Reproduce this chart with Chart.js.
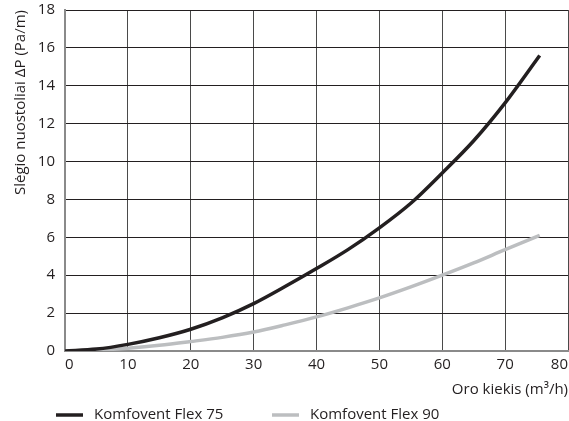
<!DOCTYPE html>
<html>
<head>
<meta charset="utf-8">
<script src="https://cdn.jsdelivr.net/npm/chart.js@4"></script>
<style>
  html, body { margin: 0; padding: 0; background: #fff; }
  #wrap { width: 569px; height: 421px; position: relative; }
</style>
</head>
<body>
<div id="wrap"><canvas id="c"></canvas></div>
<script>
// Data
const airflow = [0, 5, 10, 15, 20, 25, 30, 35, 40, 45, 50, 55, 60, 65, 70, 75.5];
const flex75 = [0, 0.1, 0.35, 0.7, 1.15, 1.75, 2.5, 3.4, 4.35, 5.35, 6.5, 7.8, 9.4, 11.1, 13.1, 15.6];
const flex90 = [0, 0.04, 0.15, 0.3, 0.5, 0.72, 1.0, 1.38, 1.8, 2.28, 2.8, 3.38, 4.0, 4.65, 5.35, 6.1];
const seriesNames = ['Komfovent Flex 75', 'Komfovent Flex 90'];
const xTitle = 'Oro kiekis (m³/h)';
const yTitle = 'Slėgio nuostoliai ΔP (Pa/m)';

const FONT = '"Open Sans", "Noto Sans", sans-serif';
const TEXT = '#231f20';
const toPts = (xs, ys) => xs.map((x, i) => ({ x: x, y: ys[i] }));

const legendPlugin = {
  id: 'customLegend',
  afterDraw(chart) {
    const ctx = chart.ctx;
    const starts = [56, 272];
    const y = 415;
    ctx.save();
    chart.data.datasets.forEach((ds, i) => {
      const x0 = starts[i];
      ctx.strokeStyle = ds.borderColor;
      ctx.lineWidth = 3.5;
      ctx.beginPath();
      ctx.moveTo(x0, y);
      ctx.lineTo(x0 + 27, y);
      ctx.stroke();
      ctx.fillStyle = TEXT;
      ctx.font = '15px ' + FONT;
      ctx.textBaseline = 'middle';
      ctx.textAlign = 'left';
      ctx.fillText(ds.label, x0 + 38, y);
    });
    ctx.restore();
  }
};

new Chart(document.getElementById('c'), {
  type: 'line',
  data: {
    datasets: [
      {
        label: seriesNames[0],
        data: toPts(airflow, flex75),
        borderColor: '#231f20',
        borderWidth: 3.5,
        pointRadius: 0,
        cubicInterpolationMode: 'monotone',
        fill: false
      },
      {
        label: seriesNames[1],
        data: toPts(airflow, flex90),
        borderColor: '#bcbec0',
        borderWidth: 3.5,
        pointRadius: 0,
        cubicInterpolationMode: 'monotone',
        fill: false
      }
    ]
  },
  options: {
    responsive: true,
    maintainAspectRatio: false,
    animation: false,
    layout: { padding: { left: 12, right: 1, top: 10, bottom: 22 } },
    plugins: {
      legend: { display: false },
      tooltip: { enabled: false }
    },
    scales: {
      x: {
        type: 'linear',
        min: 0,
        max: 80,
        ticks: { stepSize: 10, color: TEXT, font: { family: FONT, size: 15 }, padding: 5, align: 'inner', maxRotation: 0 },
        grid: { color: '#4a4a4a', lineWidth: 1, drawTicks: false },
        border: { color: '#8a8a8a', width: 2 },
        title: { display: true, text: xTitle, align: 'end', color: TEXT, font: { family: FONT, size: 15 }, padding: { top: 7, bottom: 0 } },
        afterFit(scale) { scale.paddingRight = 0; scale.paddingLeft = 0; scale.height = 48; }
      },
      y: {
        min: 0,
        max: 18,
        ticks: { stepSize: 2, color: TEXT, font: { family: FONT, size: 15 }, padding: 10 },
        grid: { color: '#231f20', lineWidth: 1, drawTicks: false },
        border: { color: '#8a8a8a', width: 2 },
        title: { display: true, text: yTitle, align: 'end', color: TEXT, font: { family: FONT, size: 15 }, padding: { top: 0, bottom: 8 } },
        afterFit(scale) { scale.paddingTop = 0; scale.paddingBottom = 0; scale.width = 53; }
      }
    }
  },
  plugins: [legendPlugin]
});
</script>
</body>
</html>
